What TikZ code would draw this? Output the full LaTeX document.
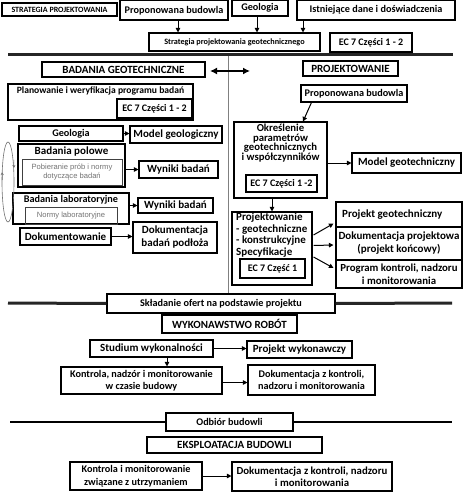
\documentclass[tikz,border=0pt]{standalone}
\usepackage{fontspec}
\setmainfont{Carlito}
\newfontfamily\lightf{Liberation Sans}
\usetikzlibrary{arrows.meta,calc}
\begin{document}
\begin{tikzpicture}[x=1pt,y=-1pt,
  box/.style={draw, line width=1.1pt, inner sep=0pt, align=center, font=\bfseries\fontsize{10.2}{12.5}\selectfont},
  gbox/.style={draw=black!75, line width=0.8pt, inner sep=0pt, align=center, text=black!55, font=\lightf\fontsize{7.6}{8.6}\selectfont},
  lbl/.style={inner sep=0pt, align=center, font=\bfseries\fontsize{10.2}{12.5}\selectfont},
  arr/.style={-{Triangle[length=4.5pt,width=4.5pt]}, line width=1pt},
  sepline/.style={line width=3pt, black!85},
  fs/.style={font=\bfseries\fontsize{8.2}{9}\selectfont},
  fxs/.style={font=\bfseries\fontsize{8}{9}\selectfont},
  fl/.style={font=\bfseries\fontsize{11}{13}\selectfont},
  fcap/.style={font=\bfseries\fontsize{11}{13}\selectfont},
  fec/.style={font=\bfseries\fontsize{10}{11}\selectfont}]
\useasboundingbox[fill=white] (0,0) rectangle (465,500);

% ---------- top ----------
\node[box,fxs,minimum width=115pt,minimum height=13pt] (strat) at (59.5,9.5) {STRATEGIA PROJEKTOWANIA};
\node[box,minimum width=108pt,minimum height=19.5pt] (prop1) at (174,10.25) {Proponowana budowla};
\node[box,minimum width=56pt,minimum height=15.5pt] (geol1) at (260,8.25) {Geologia};
\node[box,minimum width=158pt,minimum height=19.5pt] (ist) at (376,10.25) {Istniejące dane i doświadczenia};
\node[box,fs,minimum width=171pt,minimum height=18pt] (strat2) at (234.5,42) {Strategia projektowania geotechnicznego};
\node[box,fec,minimum width=82pt,minimum height=19pt] (ec1) at (371,42.5) {EC 7 Części 1 - 2};
\coordinate (xa) at (178,0);
\coordinate (xb) at (257,0);
\coordinate (xc) at (303,0);
\draw[arr] (prop1.south -| xa) -- (strat2.north -| xa);
\draw[arr] (geol1.south -| xb) -- (strat2.north -| xb);
\draw[arr] (ist.south -| xc) -- (strat2.north -| xc);
\coordinate (l1a) at (8,54.5);
\coordinate (l1b) at (453,54.5);
\draw[sepline] (l1a) -- (l1b);

% ---------- middle vertical line ----------
\coordinate (vtop) at (228,56);
\coordinate (vbot) at (228,294);
\draw[black!50, line width=0.8pt] (vtop) -- (vbot);

% ---------- left column ----------
\node[box,fcap,minimum width=163pt,minimum height=15pt] (bad) at (123.5,69.5) {BADANIA GEOTECHNICZNE};
\coordinate (da1) at (210,71);
\coordinate (da2) at (250,71);
\draw[line width=2pt, {Latex[length=7pt,width=7pt]}-{Latex[length=7pt,width=7pt]}] (da1) -- (da2);

\node[box,minimum width=185pt,minimum height=36pt] (plan) at (100.5,102) {};
\node[lbl,font=\bfseries\fontsize{9.6}{10}\selectfont] (plant) at (100.5,91) {Planowanie i weryfikacja programu badań};
\node[box,fec,minimum width=75pt,minimum height=19pt] (ec2) at (154.5,108.5) {EC 7 Części 1 - 2};

\node[box,minimum width=104pt,minimum height=15pt] (geol2) at (71,133.5) {Geologia};
\node[box,fl,minimum width=92pt,minimum height=17pt] (modgeo) at (176,134.5) {Model geologiczny};
\draw[arr] (geol2.east) -- (geol2.east -| modgeo.west);

\node[box,minimum width=107pt,minimum height=43pt] (polowe) at (71.5,165.5) {};
\node[lbl,fl] (polt) at (71.5,152) {Badania polowe};
\node[gbox,minimum width=100pt,minimum height=26pt] (pobier) at (72,172) {Pobieranie prób i normy\\dotyczące badań};
\node[box,fl,minimum width=79pt,minimum height=17pt] (wyn1) at (178.5,169.5) {Wyniki badań};
\draw[arr] (polowe.east |- wyn1.west) -- (wyn1.west);

\node[box,minimum width=116pt,minimum height=31pt] (lab) at (71,208.5) {};
\node[lbl] (labt) at (71,200) {Badania laboratoryjne};
\node[gbox,minimum width=92pt,minimum height=17pt] (normy) at (71,215.5) {Normy laboratoryjne};
\node[box,fl,minimum width=75pt,minimum height=15pt] (wyn2) at (175.5,205.5) {Wyniki badań};
\draw[arr] (lab.east |- wyn2.west) -- (wyn2.west);

\node[box,fl,minimum width=91pt,minimum height=17pt] (dok) at (65.5,236.5) {Dokumentowanie};
\node[box,fl,minimum width=84pt,minimum height=31pt] (dokbad) at (175,237.5) {Dokumentacja\\badań podłoża};
\draw[arr] (dok.east) -- (dok.east -| dokbad.west);

% cycle ellipse
\draw[black!55, line width=0.6pt] (8,182) ellipse [x radius=6, y radius=40];
\draw[black!55, line width=0.6pt, -{Stealth[length=3pt,width=3pt]}] (2.3,180) -- (2.2,172);
\draw[black!55, line width=0.6pt, -{Stealth[length=3pt,width=3pt]}] (13.8,160) -- (13.9,168);

% ---------- right column ----------
\node[box,fcap,minimum width=95pt,minimum height=15pt] (proj) at (350.5,68.5) {PROJEKTOWANIE};
\node[box,minimum width=106pt,minimum height=17pt] (prop2) at (354,93.5) {Proponowana budowla};
\node[box,minimum width=93pt,minimum height=76pt] (okr) at (280.5,160) {};
\node[lbl,font=\bfseries\fontsize{10.7}{9.3}\selectfont] (okrt) at (280.5,143.5) {Określenie\\parametrów\\geotechnicznych\\i współczynników};
\node[box,fec,minimum width=71pt,minimum height=17pt] (ec3) at (281.5,183.5) {EC 7 Części 1 -2};
\draw[arr] ($(prop2.south west)+(11,0)$) -- ($(okr.north)+(22.5,0)$);
\node[box,fl,minimum width=109pt,minimum height=20pt] (modgt) at (406.5,163) {Model geotechniczny};
\draw[arr] (okr.east |- modgt.west) -- (modgt.west);

\node[box,minimum width=80pt,minimum height=73pt] (projk) at (272,248.5) {};
\node[lbl,anchor=west,align=left,font=\bfseries\fontsize{11}{11.8}\selectfont] (projkt) at (236,235) {Projektowanie\\- geotechniczne\\- konstrukcyjne\\Specyfikacje};
\node[box,fec,minimum width=65pt,minimum height=19pt] (ec4) at (272.5,268.5) {EC 7 Część 1};
\draw[arr] (okr.south -| projk.north) -- (projk.north);

\node[box,minimum width=126pt,minimum height=25pt] (pg) at (399,214.5) {};
\node[lbl,fl,anchor=west] (pgt) at (342,215) {Projekt geotechniczny};
\node[box,fl,minimum width=126pt,minimum height=33pt] (dp) at (399,243.5) {Dokumentacja projektowa\\(projekt końcowy)};
\node[box,font=\bfseries\fontsize{10.8}{12.5}\selectfont,minimum width=126pt,minimum height=28pt] (pk) at (399,274) {Program kontroli, nadzoru\\i monitorowania};
\draw[arr] ($(projk.east)+(1,-13.5)$) -- ($(pg.south west)+(-2,-4)$);
\draw[arr] ($(projk.east)+(1,-3)$) -- ($(dp.west)+(-2,1.5)$);
\draw[arr] ($(projk.east)+(1,8.5)$) -- ($(pk.west)+(-2,-6)$);

% ---------- construction ----------
\node[box,minimum width=228pt,minimum height=19pt] (skl) at (221,303.5) {Składanie ofert na podstawie projektu};
\coordinate (l2a) at (8,303);
\coordinate (l2b) at (452,303);
\draw[sepline] (l2a) -- (skl.west);
\draw[sepline] (skl.east) -- (l2b);
\node[box,fcap,minimum width=135pt,minimum height=18pt] (wyk) at (229.5,324) {WYKONAWSTWO ROBÓT};
\node[box,fl,minimum width=123pt,minimum height=17pt] (stud) at (151.5,348.5) {Studium wykonalności};
\node[box,fl,minimum width=105pt,minimum height=17pt] (pw) at (299.5,349.5) {Projekt wykonawczy};
\draw[arr] (stud.east) -- (stud.east -| pw.west);
\node[box,minimum width=161pt,minimum height=27pt] (kon) at (141.5,380.5) {Kontrola, nadzór i monitorowanie\\w czasie budowy};
\node[box,minimum width=127pt,minimum height=30pt] (dzk) at (311.5,380) {Dokumentacja z kontroli,\\nadzoru i monitorowania};
\coordinate (xd) at (167,0);
\draw[arr] (stud.south -| xd) -- (kon.north -| xd);
\draw[arr] ($(kon.east)+(0,2)$) -- ($(kon.east -| dzk.west)+(0,2)$);

% ---------- exploitation ----------
\node[box,minimum width=127pt,minimum height=18pt] (odb) at (229.5,422) {Odbiór budowli};
\coordinate (l3a) at (10,422);
\coordinate (l3b) at (452,422);
\draw[line width=2.4pt] (l3a) -- (odb.west);
\draw[line width=2.4pt] (odb.east) -- (l3b);
\node[box,fcap,minimum width=175pt,minimum height=16pt] (eks) at (234.5,445) {EKSPLOATACJA BUDOWLI};
\node[box,minimum width=132pt,minimum height=28pt] (kmu) at (136,476) {Kontrola i monitorowanie\\związane z utrzymaniem};
\node[box,font=\bfseries\fontsize{10.8}{12.5}\selectfont,minimum width=160pt,minimum height=29pt] (dzk2) at (312,476.5) {Dokumentacja z kontroli, nadzoru\\i monitorowania};
\draw[arr] (kmu.east) -- (kmu.east -| dzk2.west);
\end{tikzpicture}
\end{document}
